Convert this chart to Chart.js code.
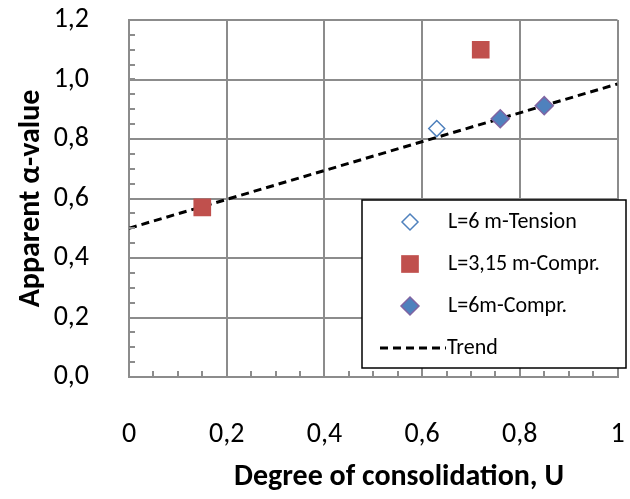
<!DOCTYPE html>
<html>
<head>
<meta charset="utf-8">
<script src="https://cdn.jsdelivr.net/npm/chart.js@4.4.1/dist/chart.umd.min.js"></script>
<style>
  html, body { margin: 0; padding: 0; background: #fff; }
  #wrap { width: 630px; height: 499px; }
</style>
</head>
<body>
<div id="wrap"><canvas id="alphaChart" width="630" height="499"></canvas></div>
<script>
// values
const tensionU = [0.63];
const tensionA = [0.835];
const short315U = [0.15, 0.72];
const short315A = [0.57, 1.10];
const long6U = [0.76, 0.85];
const long6A = [0.868, 0.912];
const trendU = [0, 1];
const trendA = [0.50, 0.985];

const xTickLabels = ["0", "0,2", "0,4", "0,6", "0,8", "1"];
const yTickLabels = ["0,0", "0,2", "0,4", "0,6", "0,8", "1,0", "1,2"];
const legendLabels = ["L=6 m-Tension", "L=3,15 m-Compr.", "L=6m-Compr.", "Trend"];

const FONT = "Carlito, Lato, 'Open Sans', sans-serif";
const GRID = "#8c8c8c";

function pts(xs, ys) {
  return xs.map((x, i) => ({ x: x, y: ys[i] }));
}

function drawMarker(ctx, ds, x, y) {
  const r = ds.pointRadius;
  ctx.save();
  ctx.fillStyle = ds.pointBackgroundColor;
  ctx.strokeStyle = ds.pointBorderColor;
  ctx.lineWidth = ds.pointBorderWidth;
  ctx.beginPath();
  if (ds.pointStyle === "rect") {
    const s = r * Math.SQRT1_2;
    ctx.rect(x - s, y - s, s * 2, s * 2);
  } else {
    ctx.moveTo(x, y - r);
    ctx.lineTo(x + r, y);
    ctx.lineTo(x, y + r);
    ctx.lineTo(x - r, y);
    ctx.closePath();
  }
  ctx.fill();
  if (ds.pointBorderWidth) ctx.stroke();
  ctx.restore();
}

function noPad(s) {
  s.paddingTop = 0;
  s.paddingBottom = 0;
  s.paddingLeft = 0;
  s.paddingRight = 0;
}

// minor ticks, legend box and x title
const extras = {
  id: "extras",
  afterDatasetsDraw(chart) {
    const ctx = chart.ctx;
    const xs = chart.scales.x, ys = chart.scales.y;
    const area = chart.chartArea;
    ctx.save();
    ctx.strokeStyle = GRID;
    ctx.lineWidth = 2;
    for (let v = 0.05; v < 1.2; v += 0.05) {
      const py = Math.round(ys.getPixelForValue(v));
      ctx.beginPath();
      ctx.moveTo(area.left, py);
      ctx.lineTo(area.left + 6, py);
      ctx.stroke();
    }
    for (let v = 0.05; v < 1; v += 0.05) {
      const px = Math.round(xs.getPixelForValue(v));
      ctx.beginPath();
      ctx.moveTo(px, area.bottom);
      ctx.lineTo(px, area.bottom - 6);
      ctx.stroke();
    }
    ctx.restore();
  },
  afterDraw(chart) {
    const ctx = chart.ctx;
    const dsets = chart.data.datasets;
    const bx = 362, by = 200, bw = 264, bh = 168;
    ctx.save();
    ctx.fillStyle = "#fff";
    ctx.fillRect(bx, by, bw, bh);
    ctx.strokeStyle = "#000";
    ctx.lineWidth = 1.5;
    ctx.strokeRect(bx, by, bw, bh);
    ctx.font = "22px " + FONT;
    ctx.fillStyle = "#000";
    ctx.textBaseline = "middle";
    const rows = [222, 264, 306, 348];
    legendLabels.forEach((lab, i) => {
      const ds = dsets[i];
      const ry = rows[i];
      if (ds.showLine) {
        ctx.save();
        ctx.strokeStyle = ds.borderColor;
        ctx.lineWidth = ds.borderWidth;
        ctx.setLineDash(ds.borderDash);
        ctx.beginPath();
        ctx.moveTo(380, ry);
        ctx.lineTo(446, ry);
        ctx.stroke();
        ctx.restore();
        ctx.fillText(lab, 447, ry);
      } else {
        drawMarker(ctx, ds, 410, ry);
        ctx.fillText(lab, 448, ry);
      }
    });
    ctx.font = "bold 30px " + FONT;
    ctx.textAlign = "center";
    ctx.fillText("Degree of consolidation, U", 399, 477);
    ctx.restore();
  }
};

new Chart(document.getElementById("alphaChart"), {
  type: "scatter",
  data: {
    datasets: [
      {
        label: legendLabels[0],
        data: pts(tensionU, tensionA),
        pointStyle: "rectRot",
        pointRadius: 8,
        pointBackgroundColor: "#ffffff",
        pointBorderColor: "#4f81bd",
        pointBorderWidth: 1.5,
        showLine: false,
      },
      {
        label: legendLabels[1],
        data: pts(short315U, short315A),
        pointStyle: "rect",
        pointRadius: 12.5,
        pointBackgroundColor: "#c0504d",
        pointBorderColor: "#c0504d",
        pointBorderWidth: 0,
        showLine: false,
      },
      {
        label: legendLabels[2],
        data: pts(long6U, long6A),
        pointStyle: "rectRot",
        pointRadius: 9,
        pointBackgroundColor: "#4f81bd",
        pointBorderColor: "#8064a2",
        pointBorderWidth: 1.5,
        showLine: false,
      },
      {
        label: legendLabels[3],
        data: pts(trendU, trendA),
        showLine: true,
        borderColor: "#000",
        borderWidth: 3,
        borderDash: [8, 5],
        pointRadius: 0,
        order: 10,
      },
    ],
  },
  options: {
    responsive: false,
    animation: false,
    layout: { padding: { top: 20, right: 7, left: 0, bottom: 0 } },
    plugins: {
      legend: { display: false },
      tooltip: { enabled: false },
    },
    scales: {
      x: {
        type: "linear",
        min: 0,
        max: 1,
        ticks: {
          stepSize: 0.2,
          padding: 41,
          color: "#000",
          font: { family: FONT, size: 28 },
          callback: (v, i) => xTickLabels[i],
        },
        grid: { color: GRID, lineWidth: 2, tickLength: 0 },
        border: { color: GRID, width: 2 },
        afterFit: (s) => { s.height = 122; noPad(s); },
      },
      y: {
        min: 0,
        max: 1.2,
        ticks: {
          stepSize: 0.2,
          padding: 40,
          color: "#000",
          font: { family: FONT, size: 28 },
          callback: (v, i) => yTickLabels[i],
        },
        grid: { color: GRID, lineWidth: 2, tickLength: 0 },
        border: { color: GRID, width: 2 },
        title: {
          display: true,
          text: "Apparent α-value",
          color: "#000",
          font: { family: FONT, size: 30, weight: "bold" },
          padding: { top: 13, bottom: 0 },
        },
        afterFit: (s) => { s.width = 129; noPad(s); },
      },
    },
  },
  plugins: [extras],
});
</script>
</body>
</html>
